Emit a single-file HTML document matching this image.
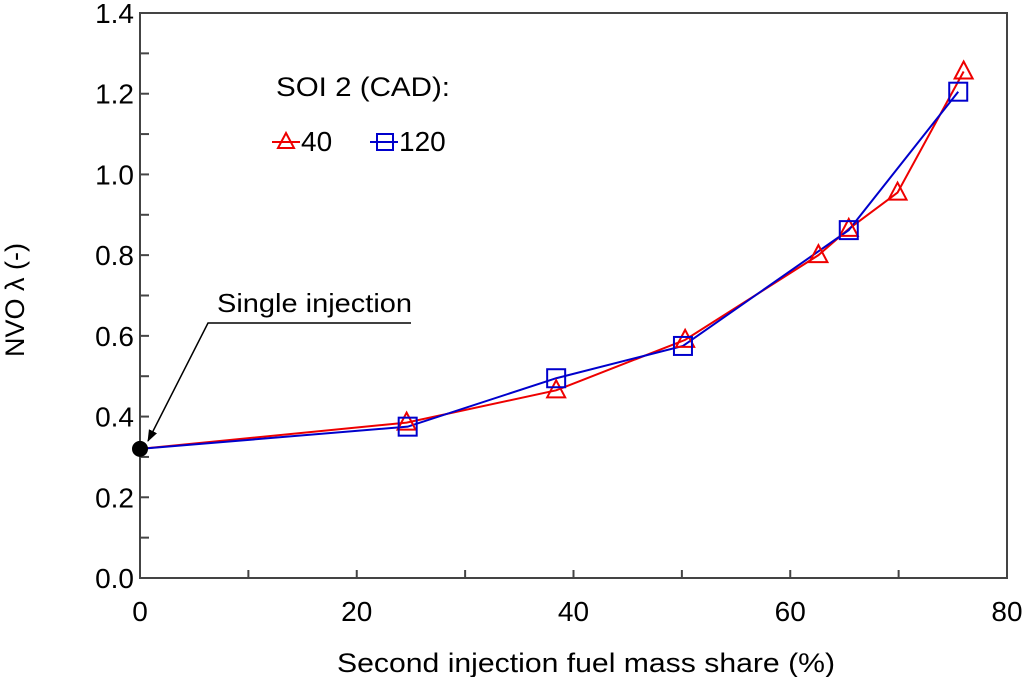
<!DOCTYPE html>
<html><head><meta charset="utf-8"><style>
body{margin:0;background:#fff;}
svg{display:block;font-family:"Liberation Sans",Arial,sans-serif;}
</style></head><body>
<svg id="chart" width="1024" height="677">
<defs><marker id="ah" markerWidth="12" markerHeight="12" refX="11" refY="6" orient="auto" markerUnits="userSpaceOnUse"><path d="M0,1.5 L12,6 L0,10.5 z" fill="#000"/></marker></defs>
<rect x="140" y="13" width="867" height="565" fill="none" stroke="#444" stroke-width="2"/>
<g id="ticks"></g>
<g id="series"></g>
<text x="337" y="672" font-size="27" textLength="498" lengthAdjust="spacingAndGlyphs" fill="#000">Second injection fuel mass share (%)</text>
<text transform="translate(24,300) rotate(-90)" font-size="27" text-anchor="middle" fill="#000">NVO λ (-)</text>
<g>
<text x="276" y="96" font-size="27" textLength="174" lengthAdjust="spacingAndGlyphs" fill="#000">SOI 2 (CAD):</text>
<g>
<line x1="272" y1="142" x2="300" y2="142" stroke="#e00" stroke-width="2"/>
<path d="M286,133 L294,148 L278,148 Z" fill="none" stroke="#e00" stroke-width="2"/>
<text x="301" y="151" font-size="28" fill="#000">40</text></g>
<g>
<line x1="370" y1="142" x2="398" y2="142" stroke="#00c" stroke-width="2"/>
<rect x="377" y="134" width="16" height="16" fill="none" stroke="#00c" stroke-width="2"/>
<text x="399" y="151" font-size="28" fill="#000">120</text></g>
</g>
<g>
<text x="217" y="312" font-size="26" textLength="195" lengthAdjust="spacingAndGlyphs" fill="#000">Single injection</text>
<polyline points="411,323 208,323 148,441" fill="none" stroke="#000" stroke-width="1.5" marker-end="url(#ah)"/>
</g>
</svg>
<script>
const xTicks=[0,20,40,60,80];
const yTicks=[0.0,0.2,0.4,0.6,0.8,1.0,1.2,1.4];
const red40X=[0,24.6,38.4,50.3,62.6,65.4,69.9,76.0];
const red40Y=[0.32,0.385,0.465,0.59,0.80,0.865,0.955,1.255];
const blue120X=[0,24.7,38.4,50.1,65.4,75.5];
const blue120Y=[0.32,0.375,0.495,0.575,0.862,1.205];
const singleX=[0];const singleY=[0.32];
const X0=140,X1=1007,Y0=578,Y1=13;
const sx=v=>X0+(v-0)/(80-0)*(X1-X0);
const sy=v=>Y0-(v-0)/(1.4-0)*(Y0-Y1);
const NS="http://www.w3.org/2000/svg";
const tg=document.getElementById('ticks'),sg=document.getElementById('series');
function mk(t,a,p){const e=document.createElementNS(NS,t);for(const k in a)e.setAttribute(k,a[k]);p.appendChild(e);return e;}
for(let i=0;i<xTicks.length;i++){const v=xTicks[i];
 const t=mk('text',{x:sx(v),y:621,'font-size':28,'text-anchor':'middle',fill:'#000'},tg);t.textContent=v;
 
 
 if(i>0&&i<xTicks.length-1)mk('line',{x1:sx(v),y1:Y0,x2:sx(v),y2:Y0-8,stroke:'#444','stroke-width':2},tg);
 if(i<xTicks.length-1){const m=(v+xTicks[i+1])/2;mk('line',{x1:sx(m),y1:Y0,x2:sx(m),y2:Y0-8,stroke:'#444','stroke-width':2},tg);}
}
for(let i=0;i<yTicks.length;i++){const v=yTicks[i];
 const t=mk('text',{x:134,y:sy(v)+10,'font-size':28,'text-anchor':'end',fill:'#000'},tg);t.textContent=v.toFixed(1);
 
 
 if(i>0&&i<yTicks.length-1)mk('line',{x1:X0,y1:sy(v),x2:X0+9,y2:sy(v),stroke:'#444','stroke-width':2},tg);
 if(i<yTicks.length-1){const m=(v+yTicks[i+1])/2;mk('line',{x1:X0,y1:sy(m),x2:X0+9,y2:sy(m),stroke:'#444','stroke-width':2},tg);}
}
function line(xs,ys,c,name){const p=mk('polyline',{points:xs.map((x,i)=>sx(x)+','+sy(ys[i])).join(' '),fill:'none',stroke:c,'stroke-width':2},sg);
 
 }
line(red40X,red40Y,'#e00','series-40-line');
line(blue120X,blue120Y,'#00c','series-120-line');
for(let i=1;i<red40X.length;i++){const x=sx(red40X[i]),y=sy(red40Y[i]);
 const m=mk('path',{d:`M${x},${y-10} L${x+9},${y+7} L${x-9},${y+7} Z`,fill:'none',stroke:'#e00','stroke-width':2},sg);
 
 }
for(let i=1;i<blue120X.length;i++){const x=sx(blue120X[i]),y=sy(blue120Y[i]);
 const m=mk('rect',{x:x-9,y:y-9,width:18,height:18,fill:'none',stroke:'#00c','stroke-width':2},sg);
 
 }
for(let i=0;i<singleX.length;i++){const c=mk('circle',{cx:sx(singleX[i]),cy:sy(singleY[i]),r:8,fill:'#000'},sg);
 
 }
</script>
</body></html>
